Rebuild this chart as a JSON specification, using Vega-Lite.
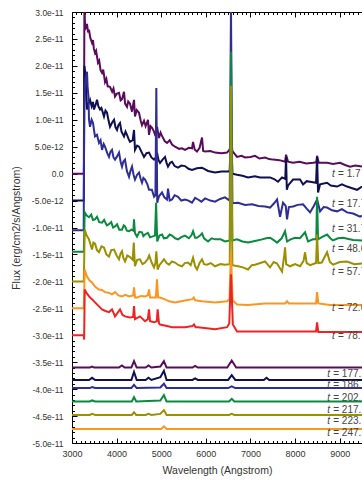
{
 "$schema": "https://vega.github.io/schema/vega-lite/v6.json",
 "width": 290,
 "height": 431,
 "autosize": {"type": "none"},
 "padding": {"left": 72, "top": 12, "right": 0, "bottom": 38},
 "background": "white",
 "config": {
  "view": {"stroke": null},
  "font": "Liberation Sans",
  "axis": {"grid": false, "domainColor": "black", "tickColor": "black", "labelColor": "#333", "titleColor": "#333", "labelFont": "Liberation Sans", "titleFont": "Liberation Sans", "titleFontWeight": "normal", "labelOverlap": false, "labelFlush": false, "labelBound": false}
 },
 "layer": [
  {
   "data": {"values": [
{"s":1,"w":3000,"f":0},{"s":1,"w":3265,"f":0},{"s":1,"w":3278,"f":3.1e-11},{"s":1,"w":3291,"f":2.8e-11},{"s":1,"w":3310,"f":2.72e-11},{"s":1,"w":3336,"f":2.78e-11},{"s":1,"w":3360,"f":2.62e-11},{"s":1,"w":3381,"f":2.67e-11},{"s":1,"w":3410,"f":2.52e-11},{"s":1,"w":3448,"f":2.43e-11},{"s":1,"w":3470,"f":2.48e-11},{"s":1,"w":3490,"f":2.32e-11},{"s":1,"w":3516,"f":2.24e-11},{"s":1,"w":3540,"f":2.28e-11},{"s":1,"w":3583,"f":2.06e-11},{"s":1,"w":3610,"f":2.1e-11},{"s":1,"w":3640,"f":1.92e-11},{"s":1,"w":3673,"f":1.87e-11},{"s":1,"w":3700,"f":1.93e-11},{"s":1,"w":3740,"f":1.7e-11},{"s":1,"w":3770,"f":1.76e-11},{"s":1,"w":3800,"f":1.62e-11},{"s":1,"w":3852,"f":1.61e-11},{"s":1,"w":3900,"f":1.52e-11},{"s":1,"w":3930,"f":1.58e-11},{"s":1,"w":3964,"f":1.43e-11},{"s":1,"w":4000,"f":1.48e-11},{"s":1,"w":4054,"f":1.5e-11},{"s":1,"w":4090,"f":1.36e-11},{"s":1,"w":4121,"f":1.38e-11},{"s":1,"w":4166,"f":1.52e-11},{"s":1,"w":4190,"f":1.3e-11},{"s":1,"w":4233,"f":1.24e-11},{"s":1,"w":4260,"f":1.34e-11},{"s":1,"w":4300,"f":1.3e-11},{"s":1,"w":4345,"f":1.15e-11},{"s":1,"w":4370,"f":1.28e-11},{"s":1,"w":4390,"f":1.37e-11},{"s":1,"w":4412,"f":1.06e-11},{"s":1,"w":4450,"f":1.18e-11},{"s":1,"w":4502,"f":1.13e-11},{"s":1,"w":4540,"f":0.98e-11},{"s":1,"w":4569,"f":0.9e-11},{"s":1,"w":4614,"f":0.98e-11},{"s":1,"w":4650,"f":0.88e-11},{"s":1,"w":4704,"f":1.0e-11},{"s":1,"w":4726,"f":0.72e-11},{"s":1,"w":4760,"f":0.88e-11},{"s":1,"w":4794,"f":0.85e-11},{"s":1,"w":4838,"f":0.78e-11},{"s":1,"w":4870,"f":0.7e-11},{"s":1,"w":4906,"f":0.87e-11},{"s":1,"w":4950,"f":0.66e-11},{"s":1,"w":4985,"f":0.76e-11},{"s":1,"w":5018,"f":0.7e-11},{"s":1,"w":5080,"f":0.6e-11},{"s":1,"w":5130,"f":0.57e-11},{"s":1,"w":5190,"f":0.62e-11},{"s":1,"w":5242,"f":0.54e-11},{"s":1,"w":5309,"f":0.5e-11},{"s":1,"w":5400,"f":0.46e-11},{"s":1,"w":5466,"f":0.47e-11},{"s":1,"w":5533,"f":0.44e-11},{"s":1,"w":5620,"f":0.48e-11},{"s":1,"w":5690,"f":0.47e-11},{"s":1,"w":5713,"f":0.59e-11},{"s":1,"w":5750,"f":0.45e-11},{"s":1,"w":5802,"f":0.41e-11},{"s":1,"w":5860,"f":0.48e-11},{"s":1,"w":5914,"f":0.67e-11},{"s":1,"w":5940,"f":0.42e-11},{"s":1,"w":5982,"f":0.41e-11},{"s":1,"w":6100,"f":0.42e-11},{"s":1,"w":6206,"f":0.39e-11},{"s":1,"w":6350,"f":0.38e-11},{"s":1,"w":6475,"f":0.39e-11},{"s":1,"w":6535,"f":0.45e-11},{"s":1,"w":6563,"f":0.69e-11},{"s":1,"w":6595,"f":0.42e-11},{"s":1,"w":6699,"f":0.31e-11},{"s":1,"w":6800,"f":0.33e-11},{"s":1,"w":6879,"f":0.3e-11},{"s":1,"w":7000,"f":0.31e-11},{"s":1,"w":7103,"f":0.33e-11},{"s":1,"w":7200,"f":0.28e-11},{"s":1,"w":7327,"f":0.3e-11},{"s":1,"w":7420,"f":0.27e-11},{"s":1,"w":7506,"f":0.26e-11},{"s":1,"w":7650,"f":0.25e-11},{"s":1,"w":7775,"f":0.22e-11},{"s":1,"w":7798,"f":0.35e-11},{"s":1,"w":7843,"f":0.22e-11},{"s":1,"w":7955,"f":0.2e-11},{"s":1,"w":8100,"f":0.22e-11},{"s":1,"w":8250,"f":0.19e-11},{"s":1,"w":8403,"f":0.2e-11},{"s":1,"w":8475,"f":0.21e-11},{"s":1,"w":8493,"f":0.33e-11},{"s":1,"w":8530,"f":0.2e-11},{"s":1,"w":8717,"f":0.2e-11},{"s":1,"w":8850,"f":0.18e-11},{"s":1,"w":9008,"f":0.2e-11},{"s":1,"w":9120,"f":0.16e-11},{"s":1,"w":9232,"f":0.13e-11},{"s":1,"w":9350,"f":0.15e-11},{"s":1,"w":9500,"f":0.13e-11},
{"s":2,"w":3000,"f":-0.5e-11},{"s":2,"w":3265,"f":-0.5e-11},{"s":2,"w":3278,"f":2.0e-11},{"s":2,"w":3300,"f":1.85e-11},{"s":2,"w":3320,"f":1.5e-11},{"s":2,"w":3336,"f":1.19e-11},{"s":2,"w":3370,"f":1.3e-11},{"s":2,"w":3404,"f":1.37e-11},{"s":2,"w":3440,"f":1.25e-11},{"s":2,"w":3470,"f":1.33e-11},{"s":2,"w":3493,"f":1.19e-11},{"s":2,"w":3530,"f":1.28e-11},{"s":2,"w":3561,"f":1.37e-11},{"s":2,"w":3590,"f":1.25e-11},{"s":2,"w":3628,"f":1.19e-11},{"s":2,"w":3660,"f":1.22e-11},{"s":2,"w":3717,"f":1.06e-11},{"s":2,"w":3750,"f":1.17e-11},{"s":2,"w":3785,"f":1.13e-11},{"s":2,"w":3820,"f":0.98e-11},{"s":2,"w":3852,"f":0.87e-11},{"s":2,"w":3900,"f":0.95e-11},{"s":2,"w":3942,"f":1.0e-11},{"s":2,"w":3975,"f":0.86e-11},{"s":2,"w":4009,"f":0.81e-11},{"s":2,"w":4040,"f":0.9e-11},{"s":2,"w":4076,"f":0.94e-11},{"s":2,"w":4110,"f":0.78e-11},{"s":2,"w":4166,"f":0.69e-11},{"s":2,"w":4200,"f":0.78e-11},{"s":2,"w":4233,"f":0.72e-11},{"s":2,"w":4270,"f":0.64e-11},{"s":2,"w":4300,"f":0.59e-11},{"s":2,"w":4360,"f":0.62e-11},{"s":2,"w":4390,"f":0.81e-11},{"s":2,"w":4412,"f":0.44e-11},{"s":2,"w":4460,"f":0.52e-11},{"s":2,"w":4502,"f":0.5e-11},{"s":2,"w":4560,"f":0.4e-11},{"s":2,"w":4614,"f":0.31e-11},{"s":2,"w":4670,"f":0.38e-11},{"s":2,"w":4726,"f":0.39e-11},{"s":2,"w":4780,"f":0.3e-11},{"s":2,"w":4838,"f":0.26e-11},{"s":2,"w":4880,"f":0.3e-11},{"s":2,"w":4906,"f":0.39e-11},{"s":2,"w":4940,"f":0.25e-11},{"s":2,"w":4973,"f":0.2e-11},{"s":2,"w":5030,"f":0.26e-11},{"s":2,"w":5085,"f":0.31e-11},{"s":2,"w":5120,"f":0.2e-11},{"s":2,"w":5152,"f":0.13e-11},{"s":2,"w":5200,"f":0.2e-11},{"s":2,"w":5242,"f":0.22e-11},{"s":2,"w":5300,"f":0.14e-11},{"s":2,"w":5376,"f":0.11e-11},{"s":2,"w":5450,"f":0.15e-11},{"s":2,"w":5533,"f":0.14e-11},{"s":2,"w":5610,"f":0.09e-11},{"s":2,"w":5690,"f":0.07e-11},{"s":2,"w":5800,"f":0.1e-11},{"s":2,"w":5914,"f":0.11e-11},{"s":2,"w":6050,"f":0.05e-11},{"s":2,"w":6206,"f":0.02e-11},{"s":2,"w":6350,"f":0.04e-11},{"s":2,"w":6497,"f":0.04e-11},{"s":2,"w":6535,"f":0.05e-11},{"s":2,"w":6563,"f":0.76e-11},{"s":2,"w":6595,"f":0},{"s":2,"w":6699,"f":-0.02e-11},{"s":2,"w":6820,"f":-0.04e-11},{"s":2,"w":6946,"f":-0.07e-11},{"s":2,"w":7100,"f":-0.05e-11},{"s":2,"w":7215,"f":-0.07e-11},{"s":2,"w":7327,"f":-0.07e-11},{"s":2,"w":7439,"f":-0.07e-11},{"s":2,"w":7530,"f":-0.1e-11},{"s":2,"w":7618,"f":-0.15e-11},{"s":2,"w":7708,"f":-0.07e-11},{"s":2,"w":7780,"f":-0.1e-11},{"s":2,"w":7798,"f":0.31e-11},{"s":2,"w":7815,"f":-0.3e-11},{"s":2,"w":7843,"f":-0.22e-11},{"s":2,"w":7955,"f":-0.11e-11},{"s":2,"w":8112,"f":-0.11e-11},{"s":2,"w":8179,"f":-0.2e-11},{"s":2,"w":8260,"f":-0.14e-11},{"s":2,"w":8336,"f":-0.15e-11},{"s":2,"w":8470,"f":-0.17e-11},{"s":2,"w":8493,"f":0.31e-11},{"s":2,"w":8515,"f":-0.35e-11},{"s":2,"w":8560,"f":-0.2e-11},{"s":2,"w":8717,"f":-0.17e-11},{"s":2,"w":8800,"f":-0.22e-11},{"s":2,"w":8941,"f":-0.24e-11},{"s":2,"w":9050,"f":-0.2e-11},{"s":2,"w":9164,"f":-0.24e-11},{"s":2,"w":9280,"f":-0.27e-11},{"s":2,"w":9389,"f":-0.3e-11},{"s":2,"w":9500,"f":-0.24e-11},
{"s":3,"w":3000,"f":-1.05e-11},{"s":3,"w":3262,"f":-1.05e-11},{"s":3,"w":3275,"f":1.3e-11},{"s":3,"w":3300,"f":1.75e-11},{"s":3,"w":3336,"f":1.89e-11},{"s":3,"w":3350,"f":1.61e-11},{"s":3,"w":3370,"f":1.43e-11},{"s":3,"w":3381,"f":1.0e-11},{"s":3,"w":3404,"f":0.87e-11},{"s":3,"w":3440,"f":1.0e-11},{"s":3,"w":3471,"f":0.94e-11},{"s":3,"w":3495,"f":0.8e-11},{"s":3,"w":3516,"f":0.69e-11},{"s":3,"w":3560,"f":0.72e-11},{"s":3,"w":3605,"f":0.57e-11},{"s":3,"w":3640,"f":0.62e-11},{"s":3,"w":3673,"f":0.44e-11},{"s":3,"w":3710,"f":0.55e-11},{"s":3,"w":3740,"f":0.5e-11},{"s":3,"w":3790,"f":0.38e-11},{"s":3,"w":3829,"f":0.31e-11},{"s":3,"w":3860,"f":0.4e-11},{"s":3,"w":3897,"f":0.44e-11},{"s":3,"w":3930,"f":0.3e-11},{"s":3,"w":3964,"f":0.26e-11},{"s":3,"w":4010,"f":0.32e-11},{"s":3,"w":4054,"f":0.39e-11},{"s":3,"w":4090,"f":0.22e-11},{"s":3,"w":4121,"f":0.13e-11},{"s":3,"w":4150,"f":0.22e-11},{"s":3,"w":4188,"f":0.26e-11},{"s":3,"w":4230,"f":0.05e-11},{"s":3,"w":4278,"f":-0.06e-11},{"s":3,"w":4310,"f":0.05e-11},{"s":3,"w":4345,"f":0.13e-11},{"s":3,"w":4380,"f":-0.02e-11},{"s":3,"w":4412,"f":-0.11e-11},{"s":3,"w":4460,"f":-0.02e-11},{"s":3,"w":4502,"f":0.02e-11},{"s":3,"w":4540,"f":-0.1e-11},{"s":3,"w":4569,"f":-0.17e-11},{"s":3,"w":4600,"f":-0.08e-11},{"s":3,"w":4637,"f":-0.11e-11},{"s":3,"w":4690,"f":-0.2e-11},{"s":3,"w":4726,"f":-0.3e-11},{"s":3,"w":4790,"f":-0.3e-11},{"s":3,"w":4840,"f":-0.43e-11},{"s":3,"w":4870,"f":-0.4e-11},{"s":3,"w":4890,"f":1.59e-11},{"s":3,"w":4910,"f":-0.54e-11},{"s":3,"w":4950,"f":-0.42e-11},{"s":3,"w":5018,"f":-0.35e-11},{"s":3,"w":5070,"f":-0.44e-11},{"s":3,"w":5130,"f":-0.48e-11},{"s":3,"w":5152,"f":-0.28e-11},{"s":3,"w":5190,"f":-0.5e-11},{"s":3,"w":5242,"f":-0.48e-11},{"s":3,"w":5300,"f":-0.4e-11},{"s":3,"w":5376,"f":-0.43e-11},{"s":3,"w":5450,"f":-0.5e-11},{"s":3,"w":5533,"f":-0.48e-11},{"s":3,"w":5610,"f":-0.5e-11},{"s":3,"w":5690,"f":-0.54e-11},{"s":3,"w":5760,"f":-0.45e-11},{"s":3,"w":5825,"f":-0.48e-11},{"s":3,"w":5900,"f":-0.52e-11},{"s":3,"w":5982,"f":-0.46e-11},{"s":3,"w":6100,"f":-0.5e-11},{"s":3,"w":6206,"f":-0.52e-11},{"s":3,"w":6320,"f":-0.47e-11},{"s":3,"w":6430,"f":-0.44e-11},{"s":3,"w":6535,"f":-0.5e-11},{"s":3,"w":6563,"f":3.1e-11},{"s":3,"w":6595,"f":-0.55e-11},{"s":3,"w":6722,"f":-0.54e-11},{"s":3,"w":6880,"f":-0.58e-11},{"s":3,"w":7036,"f":-0.57e-11},{"s":3,"w":7180,"f":-0.6e-11},{"s":3,"w":7327,"f":-0.61e-11},{"s":3,"w":7439,"f":-0.63e-11},{"s":3,"w":7530,"f":-0.55e-11},{"s":3,"w":7596,"f":-0.48e-11},{"s":3,"w":7663,"f":-0.8e-11},{"s":3,"w":7730,"f":-0.54e-11},{"s":3,"w":7790,"f":-0.6e-11},{"s":3,"w":7820,"f":-0.85e-11},{"s":3,"w":7860,"f":-0.62e-11},{"s":3,"w":7955,"f":-0.61e-11},{"s":3,"w":8060,"f":-0.58e-11},{"s":3,"w":8179,"f":-0.57e-11},{"s":3,"w":8260,"f":-0.65e-11},{"s":3,"w":8336,"f":-0.72e-11},{"s":3,"w":8420,"f":-0.6e-11},{"s":3,"w":8493,"f":-0.48e-11},{"s":3,"w":8560,"f":-0.7e-11},{"s":3,"w":8640,"f":-0.62e-11},{"s":3,"w":8717,"f":-0.63e-11},{"s":3,"w":8830,"f":-0.68e-11},{"s":3,"w":8941,"f":-0.7e-11},{"s":3,"w":9050,"f":-0.66e-11},{"s":3,"w":9164,"f":-0.72e-11},{"s":3,"w":9300,"f":-0.74e-11},{"s":3,"w":9456,"f":-0.8e-11},{"s":3,"w":9500,"f":-0.78e-11},
{"s":4,"w":3000,"f":-1.45e-11},{"s":4,"w":3265,"f":-1.45e-11},{"s":4,"w":3285,"f":-0.72e-11},{"s":4,"w":3330,"f":-0.78e-11},{"s":4,"w":3381,"f":-0.81e-11},{"s":4,"w":3430,"f":-0.76e-11},{"s":4,"w":3470,"f":-0.86e-11},{"s":4,"w":3516,"f":-0.85e-11},{"s":4,"w":3560,"f":-0.8e-11},{"s":4,"w":3610,"f":-0.9e-11},{"s":4,"w":3673,"f":-0.91e-11},{"s":4,"w":3720,"f":-0.86e-11},{"s":4,"w":3780,"f":-0.96e-11},{"s":4,"w":3829,"f":-0.94e-11},{"s":4,"w":3880,"f":-0.9e-11},{"s":4,"w":3920,"f":-1.0e-11},{"s":4,"w":3964,"f":-0.98e-11},{"s":4,"w":4010,"f":-0.94e-11},{"s":4,"w":4060,"f":-1.04e-11},{"s":4,"w":4121,"f":-1.04e-11},{"s":4,"w":4160,"f":-0.96e-11},{"s":4,"w":4188,"f":-0.98e-11},{"s":4,"w":4230,"f":-1.06e-11},{"s":4,"w":4278,"f":-1.07e-11},{"s":4,"w":4330,"f":-1.04e-11},{"s":4,"w":4375,"f":-1.06e-11},{"s":4,"w":4390,"f":-0.85e-11},{"s":4,"w":4410,"f":-1.1e-11},{"s":4,"w":4457,"f":-1.17e-11},{"s":4,"w":4510,"f":-1.08e-11},{"s":4,"w":4569,"f":-1.09e-11},{"s":4,"w":4600,"f":-1.16e-11},{"s":4,"w":4637,"f":-1.13e-11},{"s":4,"w":4700,"f":-1.1e-11},{"s":4,"w":4750,"f":-1.18e-11},{"s":4,"w":4794,"f":-1.17e-11},{"s":4,"w":4860,"f":-1.15e-11},{"s":4,"w":4885,"f":-0.54e-11},{"s":4,"w":4910,"f":-1.26e-11},{"s":4,"w":4960,"f":-1.15e-11},{"s":4,"w":5018,"f":-1.13e-11},{"s":4,"w":5060,"f":-1.2e-11},{"s":4,"w":5130,"f":-1.19e-11},{"s":4,"w":5190,"f":-1.13e-11},{"s":4,"w":5242,"f":-1.15e-11},{"s":4,"w":5310,"f":-1.2e-11},{"s":4,"w":5376,"f":-1.22e-11},{"s":4,"w":5450,"f":-1.18e-11},{"s":4,"w":5533,"f":-1.15e-11},{"s":4,"w":5620,"f":-1.2e-11},{"s":4,"w":5680,"f":-1.14e-11},{"s":4,"w":5713,"f":-1.07e-11},{"s":4,"w":5760,"f":-1.19e-11},{"s":4,"w":5802,"f":-1.19e-11},{"s":4,"w":5870,"f":-1.15e-11},{"s":4,"w":5914,"f":-1.11e-11},{"s":4,"w":5960,"f":-1.2e-11},{"s":4,"w":6049,"f":-1.26e-11},{"s":4,"w":6130,"f":-1.2e-11},{"s":4,"w":6206,"f":-1.22e-11},{"s":4,"w":6330,"f":-1.22e-11},{"s":4,"w":6430,"f":-1.26e-11},{"s":4,"w":6535,"f":-1.24e-11},{"s":4,"w":6563,"f":2.26e-11},{"s":4,"w":6595,"f":-1.24e-11},{"s":4,"w":6699,"f":-1.22e-11},{"s":4,"w":6820,"f":-1.26e-11},{"s":4,"w":6946,"f":-1.28e-11},{"s":4,"w":7100,"f":-1.25e-11},{"s":4,"w":7260,"f":-1.22e-11},{"s":4,"w":7350,"f":-1.2e-11},{"s":4,"w":7439,"f":-1.19e-11},{"s":4,"w":7530,"f":-1.24e-11},{"s":4,"w":7596,"f":-1.28e-11},{"s":4,"w":7700,"f":-1.2e-11},{"s":4,"w":7775,"f":-1.07e-11},{"s":4,"w":7820,"f":-1.26e-11},{"s":4,"w":7900,"f":-1.22e-11},{"s":4,"w":8000,"f":-1.19e-11},{"s":4,"w":8110,"f":-1.2e-11},{"s":4,"w":8224,"f":-1.09e-11},{"s":4,"w":8291,"f":-1.26e-11},{"s":4,"w":8400,"f":-1.22e-11},{"s":4,"w":8475,"f":-1.22e-11},{"s":4,"w":8493,"f":-0.43e-11},{"s":4,"w":8515,"f":-1.22e-11},{"s":4,"w":8600,"f":-1.18e-11},{"s":4,"w":8717,"f":-1.13e-11},{"s":4,"w":8790,"f":-1.2e-11},{"s":4,"w":8851,"f":-1.24e-11},{"s":4,"w":8960,"f":-1.2e-11},{"s":4,"w":9075,"f":-1.19e-11},{"s":4,"w":9300,"f":-1.23e-11},{"s":4,"w":9500,"f":-1.24e-11},
{"s":5,"w":3000,"f":-2.0e-11},{"s":5,"w":3265,"f":-2.0e-11},{"s":5,"w":3285,"f":-1.04e-11},{"s":5,"w":3330,"f":-1.15e-11},{"s":5,"w":3381,"f":-1.22e-11},{"s":5,"w":3410,"f":-1.3e-11},{"s":5,"w":3448,"f":-1.41e-11},{"s":5,"w":3480,"f":-1.28e-11},{"s":5,"w":3516,"f":-1.3e-11},{"s":5,"w":3560,"f":-1.42e-11},{"s":5,"w":3605,"f":-1.46e-11},{"s":5,"w":3660,"f":-1.35e-11},{"s":5,"w":3717,"f":-1.37e-11},{"s":5,"w":3770,"f":-1.5e-11},{"s":5,"w":3829,"f":-1.54e-11},{"s":5,"w":3880,"f":-1.42e-11},{"s":5,"w":3942,"f":-1.41e-11},{"s":5,"w":4000,"f":-1.52e-11},{"s":5,"w":4054,"f":-1.59e-11},{"s":5,"w":4090,"f":-1.48e-11},{"s":5,"w":4121,"f":-1.44e-11},{"s":5,"w":4150,"f":-1.56e-11},{"s":5,"w":4188,"f":-1.63e-11},{"s":5,"w":4240,"f":-1.52e-11},{"s":5,"w":4300,"f":-1.55e-11},{"s":5,"w":4360,"f":-1.6e-11},{"s":5,"w":4385,"f":-1.28e-11},{"s":5,"w":4410,"f":-1.72e-11},{"s":5,"w":4460,"f":-1.6e-11},{"s":5,"w":4524,"f":-1.59e-11},{"s":5,"w":4580,"f":-1.68e-11},{"s":5,"w":4637,"f":-1.65e-11},{"s":5,"w":4700,"f":-1.58e-11},{"s":5,"w":4730,"f":-1.52e-11},{"s":5,"w":4790,"f":-1.66e-11},{"s":5,"w":4838,"f":-1.74e-11},{"s":5,"w":4870,"f":-1.66e-11},{"s":5,"w":4890,"f":-1.44e-11},{"s":5,"w":4920,"f":-1.78e-11},{"s":5,"w":4960,"f":-1.7e-11},{"s":5,"w":5062,"f":-1.59e-11},{"s":5,"w":5120,"f":-1.66e-11},{"s":5,"w":5175,"f":-1.69e-11},{"s":5,"w":5242,"f":-1.63e-11},{"s":5,"w":5309,"f":-1.65e-11},{"s":5,"w":5390,"f":-1.7e-11},{"s":5,"w":5466,"f":-1.72e-11},{"s":5,"w":5530,"f":-1.66e-11},{"s":5,"w":5600,"f":-1.65e-11},{"s":5,"w":5660,"f":-1.7e-11},{"s":5,"w":5713,"f":-1.56e-11},{"s":5,"w":5760,"f":-1.72e-11},{"s":5,"w":5802,"f":-1.78e-11},{"s":5,"w":5860,"f":-1.66e-11},{"s":5,"w":5914,"f":-1.59e-11},{"s":5,"w":5960,"f":-1.68e-11},{"s":5,"w":6026,"f":-1.69e-11},{"s":5,"w":6110,"f":-1.66e-11},{"s":5,"w":6206,"f":-1.72e-11},{"s":5,"w":6330,"f":-1.68e-11},{"s":5,"w":6430,"f":-1.69e-11},{"s":5,"w":6535,"f":-1.68e-11},{"s":5,"w":6563,"f":1.63e-11},{"s":5,"w":6595,"f":-1.7e-11},{"s":5,"w":6722,"f":-1.72e-11},{"s":5,"w":6830,"f":-1.74e-11},{"s":5,"w":6946,"f":-1.78e-11},{"s":5,"w":7030,"f":-1.7e-11},{"s":5,"w":7103,"f":-1.69e-11},{"s":5,"w":7220,"f":-1.66e-11},{"s":5,"w":7327,"f":-1.63e-11},{"s":5,"w":7439,"f":-1.74e-11},{"s":5,"w":7520,"f":-1.64e-11},{"s":5,"w":7596,"f":-1.67e-11},{"s":5,"w":7708,"f":-1.82e-11},{"s":5,"w":7760,"f":-1.5e-11},{"s":5,"w":7775,"f":-1.37e-11},{"s":5,"w":7800,"f":-1.68e-11},{"s":5,"w":7887,"f":-1.72e-11},{"s":5,"w":8000,"f":-1.68e-11},{"s":5,"w":8112,"f":-1.72e-11},{"s":5,"w":8190,"f":-1.62e-11},{"s":5,"w":8224,"f":-1.46e-11},{"s":5,"w":8260,"f":-1.66e-11},{"s":5,"w":8336,"f":-1.7e-11},{"s":5,"w":8470,"f":-1.66e-11},{"s":5,"w":8493,"f":-1.13e-11},{"s":5,"w":8520,"f":-1.66e-11},{"s":5,"w":8600,"f":-1.65e-11},{"s":5,"w":8717,"f":-1.46e-11},{"s":5,"w":8780,"f":-1.64e-11},{"s":5,"w":8851,"f":-1.69e-11},{"s":5,"w":9000,"f":-1.64e-11},{"s":5,"w":9164,"f":-1.63e-11},{"s":5,"w":9330,"f":-1.68e-11},{"s":5,"w":9500,"f":-1.67e-11},
{"s":6,"w":3000,"f":-2.5e-11},{"s":6,"w":3265,"f":-2.5e-11},{"s":6,"w":3285,"f":-1.78e-11},{"s":6,"w":3336,"f":-1.91e-11},{"s":6,"w":3390,"f":-1.98e-11},{"s":6,"w":3448,"f":-2.02e-11},{"s":6,"w":3520,"f":-2.1e-11},{"s":6,"w":3605,"f":-2.15e-11},{"s":6,"w":3670,"f":-2.16e-11},{"s":6,"w":3740,"f":-2.2e-11},{"s":6,"w":3820,"f":-2.21e-11},{"s":6,"w":3897,"f":-2.24e-11},{"s":6,"w":3964,"f":-2.2e-11},{"s":6,"w":4040,"f":-2.26e-11},{"s":6,"w":4121,"f":-2.28e-11},{"s":6,"w":4200,"f":-2.25e-11},{"s":6,"w":4278,"f":-2.28e-11},{"s":6,"w":4370,"f":-2.26e-11},{"s":6,"w":4390,"f":-2.11e-11},{"s":6,"w":4415,"f":-2.3e-11},{"s":6,"w":4457,"f":-2.3e-11},{"s":6,"w":4550,"f":-2.27e-11},{"s":6,"w":4637,"f":-2.28e-11},{"s":6,"w":4700,"f":-2.26e-11},{"s":6,"w":4726,"f":-2.15e-11},{"s":6,"w":4750,"f":-2.3e-11},{"s":6,"w":4794,"f":-2.3e-11},{"s":6,"w":4880,"f":-2.3e-11},{"s":6,"w":4905,"f":-1.96e-11},{"s":6,"w":4930,"f":-2.3e-11},{"s":6,"w":4973,"f":-2.3e-11},{"s":6,"w":5070,"f":-2.33e-11},{"s":6,"w":5175,"f":-2.37e-11},{"s":6,"w":5309,"f":-2.39e-11},{"s":6,"w":5500,"f":-2.36e-11},{"s":6,"w":5700,"f":-2.33e-11},{"s":6,"w":5730,"f":-2.3e-11},{"s":6,"w":5760,"f":-2.35e-11},{"s":6,"w":5914,"f":-2.37e-11},{"s":6,"w":6206,"f":-2.39e-11},{"s":6,"w":6475,"f":-2.37e-11},{"s":6,"w":6530,"f":-2.33e-11},{"s":6,"w":6563,"f":-1.44e-11},{"s":6,"w":6600,"f":-2.35e-11},{"s":6,"w":6699,"f":-2.43e-11},{"s":6,"w":6946,"f":-2.44e-11},{"s":6,"w":7327,"f":-2.41e-11},{"s":6,"w":7780,"f":-2.41e-11},{"s":6,"w":7820,"f":-2.37e-11},{"s":6,"w":7860,"f":-2.41e-11},{"s":6,"w":8112,"f":-2.41e-11},{"s":6,"w":8470,"f":-2.41e-11},{"s":6,"w":8493,"f":-2.2e-11},{"s":6,"w":8520,"f":-2.41e-11},{"s":6,"w":8784,"f":-2.44e-11},{"s":6,"w":9500,"f":-2.44e-11},
{"s":7,"w":3000,"f":-3.0e-11},{"s":7,"w":3265,"f":-3.0e-11},{"s":7,"w":3272,"f":-3.08e-11},{"s":7,"w":3285,"f":-2.15e-11},{"s":7,"w":3330,"f":-2.22e-11},{"s":7,"w":3404,"f":-2.3e-11},{"s":7,"w":3460,"f":-2.34e-11},{"s":7,"w":3516,"f":-2.39e-11},{"s":7,"w":3600,"f":-2.46e-11},{"s":7,"w":3673,"f":-2.52e-11},{"s":7,"w":3750,"f":-2.55e-11},{"s":7,"w":3829,"f":-2.57e-11},{"s":7,"w":3897,"f":-2.52e-11},{"s":7,"w":3964,"f":-2.65e-11},{"s":7,"w":4076,"f":-2.52e-11},{"s":7,"w":4130,"f":-2.62e-11},{"s":7,"w":4188,"f":-2.65e-11},{"s":7,"w":4300,"f":-2.67e-11},{"s":7,"w":4370,"f":-2.66e-11},{"s":7,"w":4390,"f":-2.46e-11},{"s":7,"w":4412,"f":-2.7e-11},{"s":7,"w":4524,"f":-2.65e-11},{"s":7,"w":4637,"f":-2.74e-11},{"s":7,"w":4700,"f":-2.7e-11},{"s":7,"w":4726,"f":-2.52e-11},{"s":7,"w":4750,"f":-2.74e-11},{"s":7,"w":4838,"f":-2.76e-11},{"s":7,"w":4900,"f":-2.74e-11},{"s":7,"w":4920,"f":-2.52e-11},{"s":7,"w":4950,"f":-2.78e-11},{"s":7,"w":4973,"f":-2.8e-11},{"s":7,"w":5130,"f":-2.83e-11},{"s":7,"w":5242,"f":-2.85e-11},{"s":7,"w":5533,"f":-2.85e-11},{"s":7,"w":5700,"f":-2.83e-11},{"s":7,"w":5735,"f":-2.8e-11},{"s":7,"w":5770,"f":-2.85e-11},{"s":7,"w":5825,"f":-2.85e-11},{"s":7,"w":6206,"f":-2.89e-11},{"s":7,"w":6475,"f":-2.85e-11},{"s":7,"w":6525,"f":-2.78e-11},{"s":7,"w":6563,"f":-1.87e-11},{"s":7,"w":6605,"f":-2.8e-11},{"s":7,"w":6699,"f":-2.93e-11},{"s":7,"w":7036,"f":-2.93e-11},{"s":7,"w":7327,"f":-2.93e-11},{"s":7,"w":7820,"f":-2.93e-11},{"s":7,"w":8470,"f":-2.93e-11},{"s":7,"w":8493,"f":-2.76e-11},{"s":7,"w":8520,"f":-2.94e-11},{"s":7,"w":9500,"f":-2.94e-11},
{"s":8,"w":3000,"f":-3.6e-11},{"s":8,"w":3400,"f":-3.6e-11},{"s":8,"w":3450,"f":-3.58e-11},{"s":8,"w":3500,"f":-3.6e-11},{"s":8,"w":4050,"f":-3.6e-11},{"s":8,"w":4118,"f":-3.56e-11},{"s":8,"w":4180,"f":-3.6e-11},{"s":8,"w":4330,"f":-3.6e-11},{"s":8,"w":4390,"f":-3.48e-11},{"s":8,"w":4450,"f":-3.6e-11},{"s":8,"w":4650,"f":-3.6e-11},{"s":8,"w":4715,"f":-3.56e-11},{"s":8,"w":4780,"f":-3.6e-11},{"s":8,"w":4980,"f":-3.58e-11},{"s":8,"w":5060,"f":-3.48e-11},{"s":8,"w":5120,"f":-3.6e-11},{"s":8,"w":5700,"f":-3.6e-11},{"s":8,"w":5760,"f":-3.57e-11},{"s":8,"w":5820,"f":-3.6e-11},{"s":8,"w":6480,"f":-3.6e-11},{"s":8,"w":6580,"f":-3.47e-11},{"s":8,"w":6680,"f":-3.6e-11},{"s":8,"w":9500,"f":-3.6e-11},
{"s":9,"w":3000,"f":-3.83e-11},{"s":9,"w":3380,"f":-3.83e-11},{"s":9,"w":3450,"f":-3.79e-11},{"s":9,"w":3520,"f":-3.83e-11},{"s":9,"w":4330,"f":-3.83e-11},{"s":9,"w":4390,"f":-3.68e-11},{"s":9,"w":4450,"f":-3.83e-11},{"s":9,"w":4650,"f":-3.83e-11},{"s":9,"w":4715,"f":-3.79e-11},{"s":9,"w":4780,"f":-3.83e-11},{"s":9,"w":4980,"f":-3.78e-11},{"s":9,"w":5060,"f":-3.66e-11},{"s":9,"w":5120,"f":-3.83e-11},{"s":9,"w":5700,"f":-3.83e-11},{"s":9,"w":5760,"f":-3.8e-11},{"s":9,"w":5820,"f":-3.83e-11},{"s":9,"w":6500,"f":-3.83e-11},{"s":9,"w":6580,"f":-3.74e-11},{"s":9,"w":6660,"f":-3.83e-11},{"s":9,"w":7300,"f":-3.83e-11},{"s":9,"w":7360,"f":-3.79e-11},{"s":9,"w":7420,"f":-3.83e-11},{"s":9,"w":9500,"f":-3.83e-11},
{"s":10,"w":3000,"f":-3.98e-11},{"s":10,"w":3400,"f":-3.98e-11},{"s":10,"w":3450,"f":-3.96e-11},{"s":10,"w":3520,"f":-3.98e-11},{"s":10,"w":4330,"f":-3.98e-11},{"s":10,"w":4390,"f":-3.92e-11},{"s":10,"w":4450,"f":-3.98e-11},{"s":10,"w":4980,"f":-3.97e-11},{"s":10,"w":5060,"f":-3.9e-11},{"s":10,"w":5120,"f":-3.98e-11},{"s":10,"w":6500,"f":-3.98e-11},{"s":10,"w":6580,"f":-3.95e-11},{"s":10,"w":6660,"f":-3.98e-11},{"s":10,"w":9500,"f":-3.98e-11},
{"s":11,"w":3000,"f":-4.23e-11},{"s":11,"w":3400,"f":-4.23e-11},{"s":11,"w":3450,"f":-4.21e-11},{"s":11,"w":3520,"f":-4.23e-11},{"s":11,"w":4340,"f":-4.23e-11},{"s":11,"w":4390,"f":-4.15e-11},{"s":11,"w":4440,"f":-4.23e-11},{"s":11,"w":4980,"f":-4.21e-11},{"s":11,"w":5060,"f":-4.11e-11},{"s":11,"w":5120,"f":-4.23e-11},{"s":11,"w":6520,"f":-4.23e-11},{"s":11,"w":6580,"f":-4.18e-11},{"s":11,"w":6640,"f":-4.23e-11},{"s":11,"w":9500,"f":-4.23e-11},
{"s":12,"w":3000,"f":-4.48e-11},{"s":12,"w":3400,"f":-4.48e-11},{"s":12,"w":3450,"f":-4.46e-11},{"s":12,"w":3520,"f":-4.48e-11},{"s":12,"w":4340,"f":-4.48e-11},{"s":12,"w":4390,"f":-4.43e-11},{"s":12,"w":4440,"f":-4.48e-11},{"s":12,"w":4650,"f":-4.48e-11},{"s":12,"w":4715,"f":-4.46e-11},{"s":12,"w":4780,"f":-4.48e-11},{"s":12,"w":4980,"f":-4.46e-11},{"s":12,"w":5060,"f":-4.39e-11},{"s":12,"w":5120,"f":-4.48e-11},{"s":12,"w":6520,"f":-4.48e-11},{"s":12,"w":6580,"f":-4.46e-11},{"s":12,"w":6640,"f":-4.48e-11},{"s":12,"w":9500,"f":-4.48e-11},
{"s":13,"w":3000,"f":-4.74e-11},{"s":13,"w":5000,"f":-4.74e-11},{"s":13,"w":5060,"f":-4.69e-11},{"s":13,"w":5120,"f":-4.74e-11},{"s":13,"w":9500,"f":-4.74e-11}
   ]},
   "mark": {"type": "line", "strokeWidth": 2, "clip": true},
   "encoding": {
    "x": {"field": "w", "type": "quantitative", "scale": {"domain": [3000, 9500], "nice": false, "zero": false},
     "axis": {"orient": "bottom", "values": [3000,3100,3200,3300,3400,3500,3600,3700,3800,3900,4000,4100,4200,4300,4400,4500,4600,4700,4800,4900,5000,5100,5200,5300,5400,5500,5600,5700,5800,5900,6000,6100,6200,6300,6400,6500,6600,6700,6800,6900,7000,7100,7200,7300,7400,7500,7600,7700,7800,7900,8000,8100,8200,8300,8400,8500,8600,8700,8800,8900,9000,9100,9200,9300,9400,9500],
      "labelExpr": "datum.value % 1000 === 0 ? '' + datum.value : ''",
      "tickSize": {"condition": {"test": "datum.value % 1000 === 0", "value": -5}, "value": -2.5},
      "labelPadding": 11, "labelFontSize": 9, "title": "Wavelength (Angstrom)", "titleFontSize": 10.5, "titlePadding": 5}},
    "y": {"field": "f", "type": "quantitative", "scale": {"domain": [-5e-11, 3e-11], "nice": false, "zero": false},
     "axis": {"orient": "left", "values": [-50e-12,-49e-12,-48e-12,-47e-12,-46e-12,-45e-12,-44e-12,-43e-12,-42e-12,-41e-12,-40e-12,-39e-12,-38e-12,-37e-12,-36e-12,-35e-12,-34e-12,-33e-12,-32e-12,-31e-12,-30e-12,-29e-12,-28e-12,-27e-12,-26e-12,-25e-12,-24e-12,-23e-12,-22e-12,-21e-12,-20e-12,-19e-12,-18e-12,-17e-12,-16e-12,-15e-12,-14e-12,-13e-12,-12e-12,-11e-12,-10e-12,-9e-12,-8e-12,-7e-12,-6e-12,-5e-12,-4e-12,-3e-12,-2e-12,-1e-12,0,1e-12,2e-12,3e-12,4e-12,5e-12,6e-12,7e-12,8e-12,9e-12,10e-12,11e-12,12e-12,13e-12,14e-12,15e-12,16e-12,17e-12,18e-12,19e-12,20e-12,21e-12,22e-12,23e-12,24e-12,25e-12,26e-12,27e-12,28e-12,29e-12,30e-12],
      "labelExpr": "abs(datum.value*2e11 - round(datum.value*2e11)) < 0.01 ? (abs(datum.value) < 1e-15 ? '0.0' : replace(format(datum.value, '.1e'), '\u2212', '-')) : ''",
      "tickSize": {"condition": {"test": "abs(datum.value*2e11 - round(datum.value*2e11)) < 0.01", "value": -5}, "value": -2.5},
      "labelPadding": 14, "labelFontSize": 8.5, "title": "Flux (erg/cm2/s/Angstrom)", "titleFontSize": 10.5, "titlePadding": 10}},
    "color": {"field": "s", "type": "nominal", "legend": null,
     "scale": {"domain": [1,2,3,4,5,6,7,8,9,10,11,12,13], "range": ["#5c0b5c","#0f0f52","#2e2e96","#0a8a40","#9a9000","#fb9620","#ee2424","#5c0b5c","#0f0f52","#2e2e96","#0a8a40","#9a9000","#fb9620"]}}
   }
  },
  {
   "data": {"name": "labels", "values": [
    {"lx": 8830, "ly": 0, "txt": "= 1.7"},
    {"lx": 8830, "ly": -0.56e-11, "txt": "= 17.7"},
    {"lx": 8830, "ly": -1.02e-11, "txt": "= 31.7"},
    {"lx": 8830, "ly": -1.39e-11, "txt": "= 48.6"},
    {"lx": 8830, "ly": -1.83e-11, "txt": "= 57.7"},
    {"lx": 8830, "ly": -2.5e-11, "txt": "= 72.6"},
    {"lx": 8830, "ly": -3.02e-11, "txt": "= 78."},
    {"lx": 8720, "ly": -3.71e-11, "txt": "= 177."},
    {"lx": 8720, "ly": -3.93e-11, "txt": "= 186."},
    {"lx": 8720, "ly": -4.17e-11, "txt": "= 202."},
    {"lx": 8720, "ly": -4.39e-11, "txt": "= 217."},
    {"lx": 8720, "ly": -4.59e-11, "txt": "= 223."},
    {"lx": 8720, "ly": -4.81e-11, "txt": "= 247."}
   ]},
   "mark": {"type": "text", "align": "left", "baseline": "middle", "fontSize": 10, "fontStyle": "italic", "color": "#444", "font": "Liberation Sans"},
   "encoding": {
    "x": {"field": "lx", "type": "quantitative", "axis": {"orient": "top", "labels": false, "title": null, "values": [3000,3100,3200,3300,3400,3500,3600,3700,3800,3900,4000,4100,4200,4300,4400,4500,4600,4700,4800,4900,5000,5100,5200,5300,5400,5500,5600,5700,5800,5900,6000,6100,6200,6300,6400,6500,6600,6700,6800,6900,7000,7100,7200,7300,7400,7500,7600,7700,7800,7900,8000,8100,8200,8300,8400,8500,8600,8700,8800,8900,9000,9100,9200,9300,9400,9500], "tickSize": {"condition": {"test": "datum.value % 1000 === 0", "value": -5}, "value": -2.5}}},
    "y": {"field": "ly", "type": "quantitative", "axis": {"orient": "right", "labels": false, "title": null, "ticks": false}},
    "text": {"value": "t"}
   }
  },
  {
   "data": {"name": "labels"},
   "mark": {"type": "text", "align": "left", "baseline": "middle", "fontSize": 10, "dx": 6, "color": "#444", "font": "Liberation Sans"},
   "encoding": {
    "x": {"field": "lx", "type": "quantitative", "axis": null},
    "y": {"field": "ly", "type": "quantitative", "axis": null},
    "text": {"field": "txt"}
   }
  }
 ],
 "resolve": {"axis": {"x": "independent", "y": "independent"}}
}
